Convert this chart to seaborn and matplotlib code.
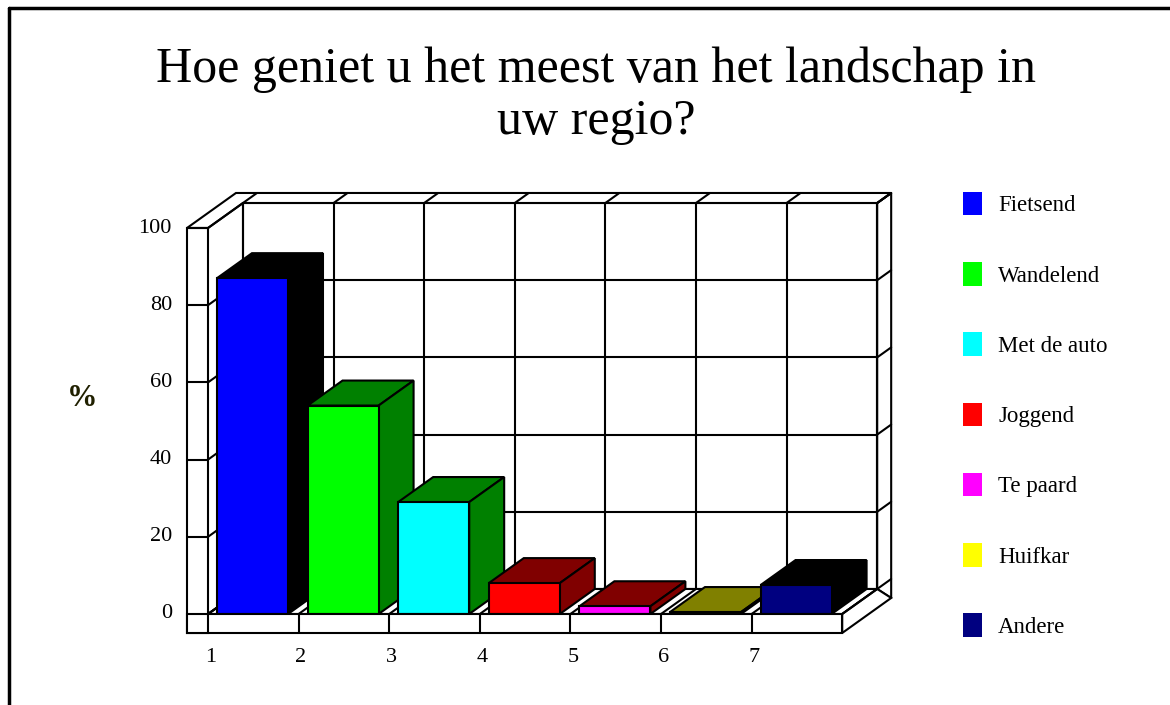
import matplotlib
matplotlib.use("Agg")
import matplotlib.pyplot as plt
from matplotlib.patches import Polygon, Rectangle, Patch
from matplotlib.lines import Line2D
import seaborn as sns
import pandas as pd

# ========== data ==========
categories = ["Fietsend", "Wandelend", "Met de auto", "Joggend", "Te paard", "Huifkar", "Andere"]
values = [87, 54, 29, 8, 2, 0.5, 7.5]
tick_labels = ["1", "2", "3", "4", "5", "6", "7"]
front_colors = ["#0000FF", "#00FF00", "#00FFFF", "#FF0000", "#FF00FF", "#FFFF00", "#000080"]
side_colors = ["#000000", "#008000", "#008000", "#800000", "#800000", "#808000", "#000000"]
y_ticks = [0, 20, 40, 60, 80, 100]
title = "Hoe geniet u het meest van het landschap in\nuw regio?"

sns.set_style("white")
plt.rcParams["font.family"] = ["Liberation Serif", "DejaVu Serif"]
plt.rcParams["text.color"] = "black"

W, H = 1170, 705
fig = plt.figure(figsize=(W / 100, H / 100), dpi=100)
ax = fig.add_axes([0, 0, 1, 1])

df = pd.DataFrame({"cat": categories, "val": values})
sns.barplot(data=df, x="cat", y="val", hue="cat", palette=front_colors,
            width=0.784, legend=False, ax=ax, saturation=1)

# 3D geometry (data units): 1 x-unit = one slot, y in percent
DX, DY = 0.386, 6.48        # depth of back wall inner face
DO = 1.4                    # outer face of back wall
xl, xr, xo = -0.491, 6.509, -0.723
ybot, ytop = -4.92, 100
lw = 1.5
edges = [xl + k for k in range(8)]

def line(xs, ys, z=2):
    ax.add_line(Line2D(xs, ys, color="black", lw=lw, zorder=z))

# back wall + top
ax.add_patch(Polygon([(xl + DX, DY), (xr + DX, DY), (xr + DX, ytop + DY), (xl + DX, ytop + DY)],
                     closed=True, fc="white", ec="black", lw=lw, zorder=1))
ax.add_patch(Polygon([(xr + DX, DY), (xr + DX * DO, ybot + DY * DO), (xr + DX * DO, ytop + DY * DO),
                      (xr + DX, ytop + DY)], closed=True, fc="white", ec="black", lw=lw, zorder=1))
ax.add_patch(Polygon([(xo, ytop), (xl, ytop), (xl + DX, ytop + DY), (xr + DX, ytop + DY),
                      (xr + DX * DO, ytop + DY * DO), (xo + DX * DO, ytop + DY * DO)],
                     closed=True, fc="white", ec="black", lw=lw, zorder=1))
for v in y_ticks[1:-1]:
    line([xl + DX, xr + DX], [v + DY, v + DY])
for v in y_ticks:
    line([xl, xl + DX], [v, v + DY])
    line([xr + DX, xr + DX * DO], [v + DY, v + DY * DO])
for e in edges:
    line([e + DX, e + DX], [DY, ytop + DY])
    line([e + DX, e + DX * DO], [ytop + DY, ytop + DY * DO])

# floor
ax.add_patch(Polygon([(xl, 0), (xr, 0), (xr + DX, DY), (xl + DX, DY)],
                     closed=True, fc="white", ec="black", lw=lw, zorder=1.5))
for e in edges:
    line([e, e + DX], [0, DY], z=1.6)
ax.add_patch(Polygon([(xr, 0), (xr, ybot), (xr + DX * DO, ybot + DY * DO), (xr + DX, DY)],
                     closed=True, fc="white", ec="black", lw=lw, zorder=1.5))
ax.add_patch(Rectangle((xo, ybot), xr - xo, -ybot, fc="white", ec="black", lw=lw, zorder=30))
for e in edges[1:-1]:
    line([e, e], [ybot, 0], z=31)

# left wall front face
ax.add_patch(Rectangle((xo, ybot), xl - xo, ytop - ybot, fc="white", ec="black", lw=lw, zorder=30))
for v in y_ticks:
    line([xo, xl], [v, v], z=31)

# bars: add depth (top + side) from each bar's own geometry
for i, p in enumerate(ax.patches[:len(values)]):
    x0, w, h = p.get_x(), p.get_width(), p.get_height()
    p.set_edgecolor("black")
    p.set_linewidth(lw)
    p.set_zorder(4 + 2 * i)
    ax.add_patch(Polygon([(x0, h), (x0 + w, h), (x0 + w + DX, h + DY), (x0 + DX, h + DY)],
                         closed=True, fc=side_colors[i], ec="black", lw=lw, zorder=3 + 2 * i))
    ax.add_patch(Polygon([(x0 + w, 0), (x0 + w, h), (x0 + w + DX, h + DY), (x0 + w + DX, DY)],
                         closed=True, fc=side_colors[i], ec="black", lw=lw, zorder=3 + 2 * i))

# tick labels
for e, t in zip(edges, tick_labels):
    ax.text(e - 0.035, -11.3, t, ha="left", va="center", fontsize=16)
for v in y_ticks:
    ax.text(-0.889, v, str(v), ha="right", va="center", fontsize=16)

ax.set_xlim((0 - 252.5) / 90.6, (W - 252.5) / 90.6)
ax.set_ylim((614 - H) / 3.86, 614 / 3.86)
ax.axis("off")

# title, axis label, legend
fig.text(596 / W, 1 - 96 / H, title, ha="center", va="center", fontsize=36, linespacing=1.16)
fig.text(82 / W, 1 - 398 / H, "%", ha="center", va="center", fontsize=22,
         fontweight="bold", color="#202000")

handles = [Patch(facecolor=c, edgecolor="none") for c in front_colors]
fig.legend(handles, categories, loc="upper left", bbox_to_anchor=(963 / W, 1 - 192 / H),
           frameon=False, fontsize=16.5, handlelength=0.83, handleheight=1.19,
           handletextpad=0.7, labelspacing=2.0, borderpad=0, borderaxespad=0)

# figure border (top and left)
fig.add_artist(Line2D([9 / W, 1], [1 - 8 / H, 1 - 8 / H], color="black", lw=2.5))
fig.add_artist(Line2D([9 / W, 9 / W], [0, 1 - 8 / H], color="black", lw=2.5))

fig.savefig("out.png", dpi=100)
